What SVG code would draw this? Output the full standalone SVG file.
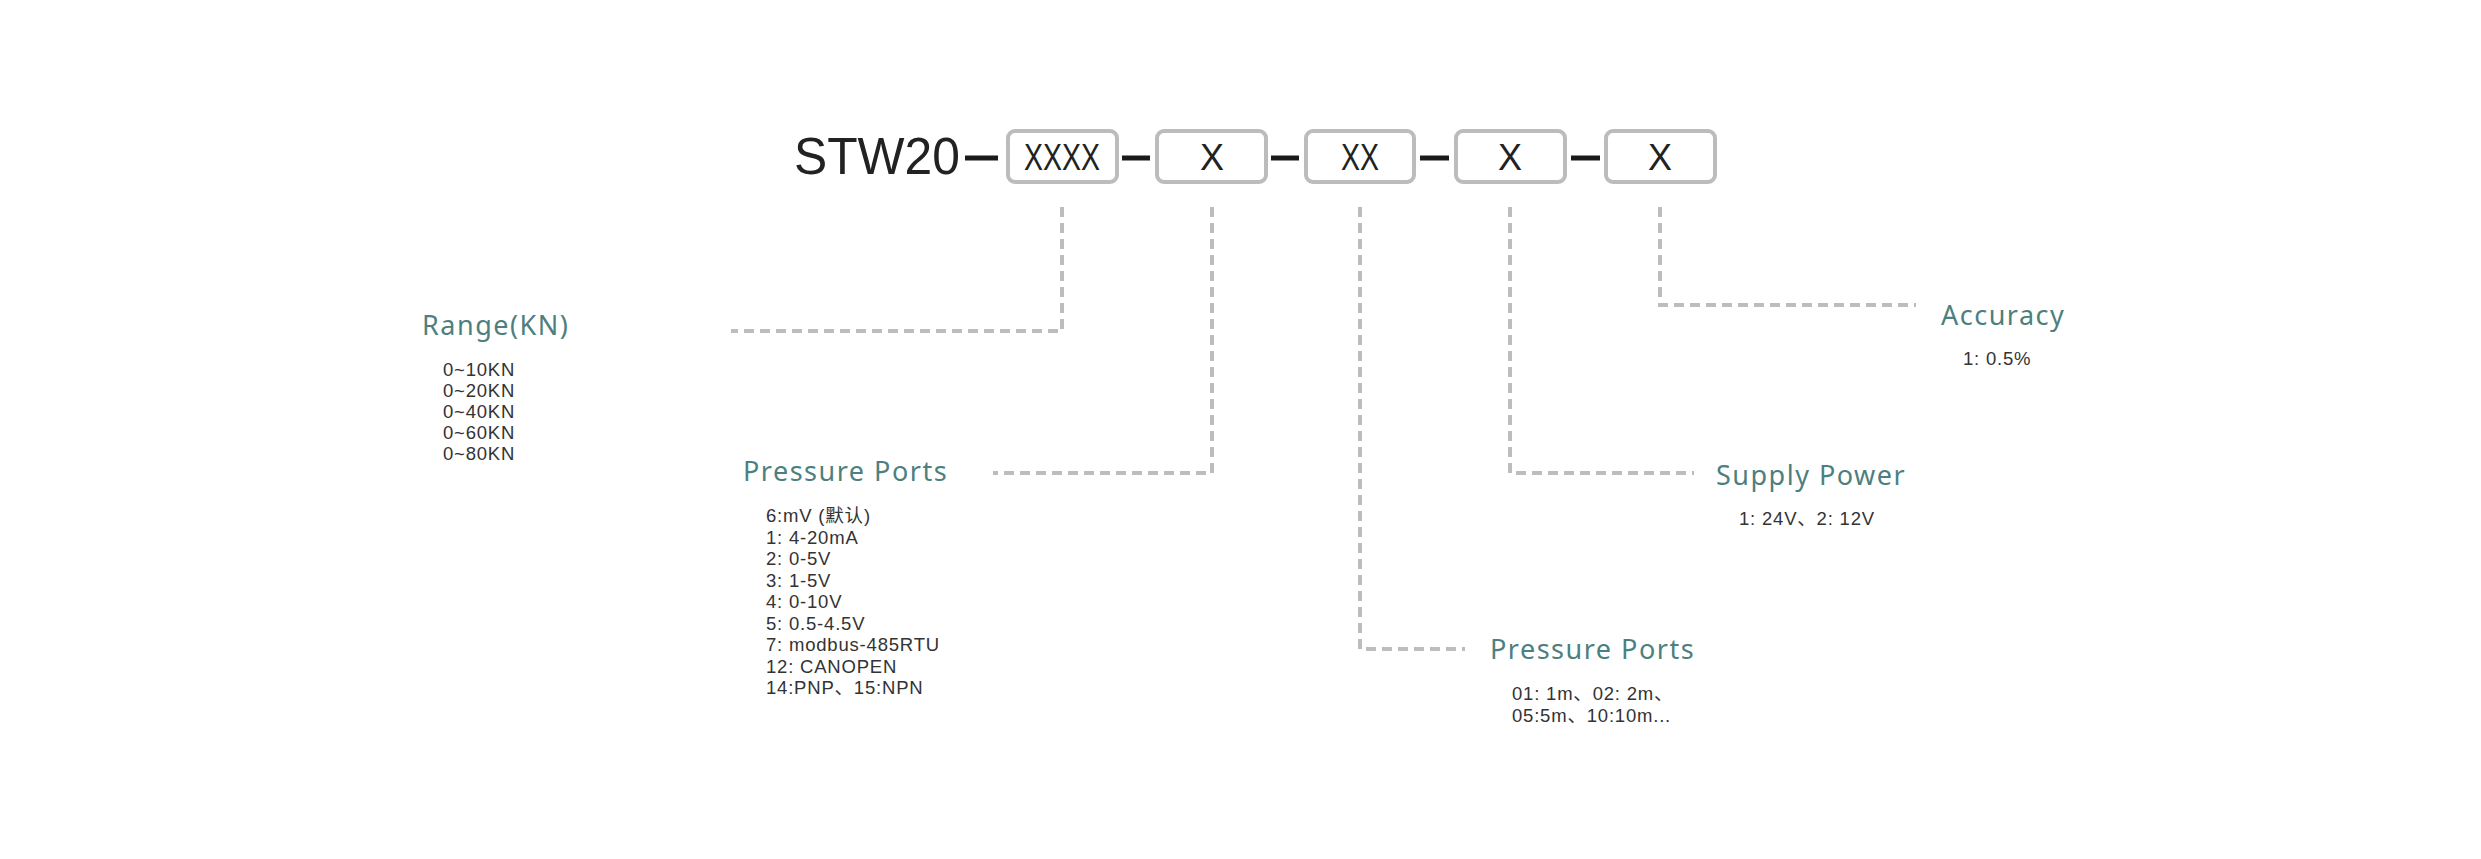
<svg xmlns="http://www.w3.org/2000/svg" width="2481" height="859" viewBox="0 0 2481 859">
<style>
.box{fill:#fff;stroke:#bdbcbb;stroke-width:4}
.code{font-family:"Liberation Sans Narrow","Liberation Sans",sans-serif;font-size:36px;fill:#222;text-anchor:middle}
.dash{stroke:#1a1a1a;stroke-width:5}
.con{fill:none;stroke:#bdbdbd;stroke-width:4;stroke-dasharray:10 6}
.lbl{font-family:"Noto Sans",sans-serif;font-size:27px;fill:#4d7f80;letter-spacing:1.5px}
.it{font-family:"Liberation Sans","Noto Sans CJK SC",sans-serif;font-size:18.5px;fill:#333;letter-spacing:0.8px}
</style>
<rect width="2481" height="859" fill="#fff"/>
<g id="header">
<text x="794" y="174" style="font-family:'Liberation Sans',sans-serif;font-size:52px;fill:#222" textLength="166" lengthAdjust="spacingAndGlyphs">STW20</text>
<line class="dash" x1="965" y1="158" x2="998" y2="158"/>
<line class="dash" x1="1122" y1="158" x2="1150" y2="158"/>
<line class="dash" x1="1271" y1="158" x2="1299" y2="158"/>
<line class="dash" x1="1420" y1="158" x2="1449" y2="158"/>
<line class="dash" x1="1571" y1="158" x2="1600" y2="158"/>
</g>
<g id="box1"><rect class="box" x="1008" y="131" width="109" height="51" rx="7"/><text class="code" x="1062" y="170" textLength="76" lengthAdjust="spacingAndGlyphs">XXXX</text></g>
<g id="box2"><rect class="box" x="1157" y="131" width="109" height="51" rx="7"/><text class="code" x="1212" y="170">X</text></g>
<g id="box3"><rect class="box" x="1306" y="131" width="108" height="51" rx="7"/><text class="code" x="1360" y="170" textLength="38" lengthAdjust="spacingAndGlyphs">XX</text></g>
<g id="box4"><rect class="box" x="1456" y="131" width="109" height="51" rx="7"/><text class="code" x="1510" y="170">X</text></g>
<g id="box5"><rect class="box" x="1606" y="131" width="109" height="51" rx="7"/><text class="code" x="1660" y="170">X</text></g>
<g id="connectors">
<polyline class="con" points="1062,207 1062,331 731,331"/>
<polyline class="con" points="1212,207 1212,473 993,473"/>
<polyline class="con" points="1360,207 1360,649 1465,649"/>
<polyline class="con" points="1510,207 1510,473 1694,473"/>
<polyline class="con" points="1660,207 1660,305 1916,305"/>
</g>
<g id="range">
<text class="lbl" x="422" y="335">Range(KN)</text>
<text class="it" x="443" y="376">0~10KN</text>
<text class="it" x="443" y="397">0~20KN</text>
<text class="it" x="443" y="418">0~40KN</text>
<text class="it" x="443" y="439">0~60KN</text>
<text class="it" x="443" y="460">0~80KN</text>
</g>
<g id="output">
<text class="lbl" x="743" y="481">Pressure Ports</text>
<text class="it" x="766" y="522">6:mV (默认)</text>
<text class="it" x="766" y="544">1: 4-20mA</text>
<text class="it" x="766" y="565">2: 0-5V</text>
<text class="it" x="766" y="587">3: 1-5V</text>
<text class="it" x="766" y="608">4: 0-10V</text>
<text class="it" x="766" y="630">5: 0.5-4.5V</text>
<text class="it" x="766" y="651">7: modbus-485RTU</text>
<text class="it" x="766" y="673">12: CANOPEN</text>
<text class="it" x="766" y="694">14:PNP、15:NPN</text>
</g>
<g id="cable">
<text class="lbl" x="1490" y="659">Pressure Ports</text>
<text class="it" x="1512" y="700">01: 1m、02: 2m、</text>
<text class="it" x="1512" y="722">05:5m、10:10m...</text>
</g>
<g id="power">
<text class="lbl" x="1716" y="485">Supply Power</text>
<text class="it" x="1739" y="525">1: 24V、2: 12V</text>
</g>
<g id="accuracy">
<text class="lbl" x="1941" y="325">Accuracy</text>
<text class="it" x="1963" y="365">1: 0.5%</text>
</g>
</svg>
